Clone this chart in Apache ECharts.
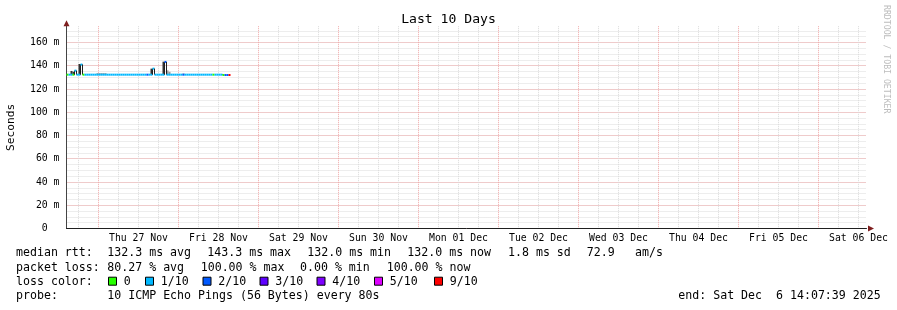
<!DOCTYPE html>
<html><head><meta charset="utf-8">
<script src="https://cdn.jsdelivr.net/npm/echarts@6/dist/echarts.min.js"></script>
<style>html,body{margin:0;padding:0;background:#fff}#c{width:897px;height:310px}</style>
</head><body><div id="c"></div>
<script>
// ---- time axis: hours relative to Thu 27 Nov 00:00 ----
const axisStartHour = -9.6;
const axisEndHour = 230.4;
const cellHours = 0.6;
const dayLines = [0, 24, 48, 72, 96, 120, 144, 168, 192, 216];
const sixHourLines = [-6, 6, 12, 18, 30, 36, 42, 54, 60, 66, 78, 84, 90, 102, 108, 114, 126, 132, 138,
  150, 156, 162, 174, 180, 186, 198, 204, 210, 222, 228];
const dayLabelHours = [12, 36, 60, 84, 108, 132, 156, 180, 204, 228];
const dayLabels = ['Thu 27 Nov', 'Fri 28 Nov', 'Sat 29 Nov', 'Sun 30 Nov', 'Mon 01 Dec',
  'Tue 02 Dec', 'Wed 03 Dec', 'Thu 04 Dec', 'Fri 05 Dec', 'Sat 06 Dec'];
const yMax = 174;

// ---- median rtt (ms) per cell ----
const median = [
  132.3, 132.3, 132.3, 132.3, 135.8, 132.3, 132.3, 141.0, 132.3, 132.3,
  132.3, 132.3, 132.3, 132.3, 132.3, 132.3, 132.3, 132.3, 132.3, 132.3,
  132.3, 132.3, 132.3, 132.3, 132.3, 132.3, 132.3, 132.3, 132.3, 132.3,
  132.3, 132.3, 132.3, 132.3, 132.3, 132.3, 132.3, 132.3, 132.3, 132.3,
  132.3, 132.3, 132.3, 137.5, 132.3, 132.3, 132.3, 132.3, 132.3, 143.3,
  132.3, 132.3, 132.3, 132.3, 132.3, 132.3, 132.3, 132.3, 132.3, 132.3,
  132.3, 132.3, 132.3, 132.3, 132.3, 132.3, 132.3, 132.3, 132.3, 132.3,
  132.3, 132.3, 132.3, 132.3, 132.3, 132.3, 132.3, 132.3, 132.0, 132.0,
  132.0, 132.0
];
// ---- lost pings (of 10) per cell ----
const lossCount = [
  0, 1, 1, 0, 1, 1, 1, 1, 0, 1,
  1, 1, 1, 1, 1, 1, 1, 1, 1, 1,
  1, 1, 1, 1, 1, 1, 1, 1, 1, 1,
  1, 1, 1, 1, 1, 1, 1, 1, 1, 1,
  2, 1, 1, 1, 1, 1, 1, 1, 1, 2,
  1, 1, 1, 1, 1, 1, 1, 1, 2, 1,
  1, 1, 1, 1, 1, 1, 1, 1, 1, 1,
  1, 1, 1, 0, 1, 1, 1, 1, 0, 2,
  2, 9
];
// ---- smoke: [cell, highest ping ms] ----
const smokeDark = [[2, 135.5], [3, 134.8], [6, 141.5], [7, 141.5], [42, 137.5], [48, 143.5]];
const smokeLight = [[15, 133.6], [16, 133.6], [17, 133.6], [18, 133.6], [19, 133.6], [50, 136.0], [51, 134.8], [58, 133.3]];

// ---- legend ----
const lossLevels = [0, 1, 2, 3, 4, 5, 9];
const lossLabels = ['0', '1/10', '2/10', '3/10', '4/10', '5/10', '9/10'];
const rttStats = ['132.3 ms avg', '143.3 ms max', '132.0 ms min', '132.0 ms now', '1.8 ms sd', '72.9', 'am/s'];
const lossStats = ['80.27 % avg', '100.00 % max', '0.00 % min', '100.00 % now'];
const probeText = '10 ICMP Echo Pings (56 Bytes) every 80s';
const endText = 'end: Sat Dec  6 14:07:39 2025';

const lossColors = ['#26ff00', '#00b8ff', '#0059ff', '#5e00ff', '#7e00ff', '#dd00ff', '#ff0000'];
const MONO = '"DejaVu Sans Mono", monospace';
const minorGrid = '#dadada';
const majorGrid = '#f0a8a8';

const cells = median.map((m, k) => [axisStartHour + k * cellHours, axisStartHour + (k + 1) * cellHours,
  m, k > 0 ? median[k - 1] : m, lossLevels.indexOf(lossCount[k])]);
const smokeRows = list => list.map(([k, hi]) => [axisStartHour + k * cellHours, axisStartHour + (k + 1) * cellHours, median[k], hi]);

function smokeRender(color) {
  return function (params, api) {
    const a = api.coord([api.value(0), api.value(3)]);
    const b = api.coord([api.value(1), api.value(2)]);
    return { type: 'rect', shape: { x: a[0], y: a[1], width: b[0] - a[0], height: b[1] - a[1] }, style: { fill: color } };
  };
}
function medianRender(params, api) {
  const t0 = api.value(0), t1 = api.value(1), med = api.value(2), prev = api.value(3), ci = api.value(4);
  const p0 = api.coord([t0, med]), p1 = api.coord([t1, med]);
  const children = [];
  if (prev !== med) {
    const q = api.coord([t0, prev]);
    children.push({ type: 'line', shape: { x1: p0[0], y1: q[1], x2: p0[0], y2: p0[1] }, style: { stroke: '#202020', lineWidth: 1 } });
  }
  children.push({ type: 'rect', shape: { x: p0[0], y: p0[1] - 1, width: p1[0] - p0[0], height: 2 }, style: { fill: lossColors[ci] } });
  return { type: 'group', children };
}

const gridBox = { left: 66.5, right: 30.5, top: 26.2, bottom: 81.5, containLabel: false, outerBoundsMode: 'none' };

// legend graphics
const graphics = [];
function txt(x, y, s, size) {
  graphics.push({ type: 'text', x, y, silent: true,
    style: { text: s, font: size + 'px ' + MONO, fill: '#000', align: 'left', verticalAlign: 'middle' } });
}
const rowY = [253.3, 267.5, 281.7, 295.9];
txt(16, rowY[0], 'median rtt:', 11.6);
[107.3, 207.3, 307.3, 407.3, 508, 586.7, 635].forEach((x, i) => txt(x, rowY[0], rttStats[i], 11.6));
txt(16, rowY[1], 'packet loss:', 11.6);
[107.3, 200.7, 300, 386.7].forEach((x, i) => txt(x, rowY[1], lossStats[i], 11.6));
txt(16, rowY[2], 'loss color:', 11.6);
const boxX = [108.5, 145.5, 203, 260, 317, 374.5, 434.5];
boxX.forEach((x, i) => {
  graphics.push({ type: 'rect', silent: true, shape: { x: x, y: rowY[2] - 4.5, width: 8, height: 8 },
    style: { fill: lossColors[i], stroke: '#000', lineWidth: 1 } });
  txt(x + 15.3, rowY[2], lossLabels[i], 11.6);
});
txt(16, rowY[3], 'probe:', 11.6);
txt(107.3, rowY[3], probeText, 11.6);
graphics.push({ type: 'text', x: 880.7, y: rowY[3], silent: true,
  style: { text: endText, font: '11.6px ' + MONO, fill: '#000', align: 'right', verticalAlign: 'middle' } });
graphics.push({ type: 'text', x: 886.5, y: 5, rotation: -Math.PI / 2, silent: true,
  style: { text: 'RRDTOOL / TOBI OETIKER', font: '8.2px ' + MONO, fill: '#bdbdbd', align: 'left', verticalAlign: 'middle' } });

const chart = echarts.init(document.getElementById('c'));
chart.setOption({
  animation: false,
  backgroundColor: '#fff',
  title: { text: 'Last 10 Days', left: 'center', top: 13.5, padding: 0,
    textStyle: { fontFamily: MONO, fontSize: 13.1, fontWeight: 'normal', color: '#000' } },
  grid: [Object.assign({}, gridBox), Object.assign({}, gridBox)],
  xAxis: [
    { // minor grid + arrow
      type: 'value', gridIndex: 0, min: axisStartHour, max: axisEndHour,
      axisLine: { show: true, onZero: false, symbol: ['none', 'triangle'], symbolSize: [6, 6], symbolOffset: [0, 4.5],
        lineStyle: { color: '#7f1f1f', width: 0 } },
      axisTick: { show: false, customValues: sixHourLines },
      axisLabel: { show: false },
      splitLine: { show: true, lineStyle: { color: minorGrid, width: 1, type: [1, 1] } }
    },
    { // major grid + labels
      type: 'value', gridIndex: 1, min: axisStartHour, max: axisEndHour,
      axisLine: { show: true, onZero: false, lineStyle: { color: '#1f1f1f', width: 1 } },
      axisTick: { show: false, customValues: dayLines },
      axisLabel: { show: true, customValues: dayLabelHours, margin: 4.5, color: '#000',
        fontFamily: MONO, fontSize: 9.8,
        formatter: v => dayLabels[dayLabelHours.indexOf(v)] },
      splitLine: { show: true, lineStyle: { color: majorGrid, width: 1, type: [1, 1] } }
    }
  ],
  yAxis: [
    { // minor grid + arrow
      type: 'value', gridIndex: 0, min: 0, max: yMax, interval: 5,
      axisLine: { show: true, onZero: false, symbol: ['none', 'triangle'], symbolSize: [6, 6], symbolOffset: [0, 3],
        lineStyle: { color: '#7f1f1f', width: 0 } },
      axisTick: { show: false }, axisLabel: { show: false },
      splitLine: { show: true, showMaxLine: false, lineStyle: { color: minorGrid, width: 1, type: [1, 1] } }
    },
    { // major grid + labels
      type: 'value', gridIndex: 1, min: 0, max: yMax, interval: 20,
      name: 'Seconds', nameLocation: 'middle', nameRotate: 90, nameGap: 50,
      nameTextStyle: { fontFamily: MONO, fontSize: 11.2, color: '#000' },
      axisLine: { show: true, onZero: false, lineStyle: { color: '#444', width: 1 } },
      axisTick: { show: false },
      axisLabel: { show: true, showMaxLabel: false, margin: 7, color: '#000', fontFamily: MONO, fontSize: 9.8,
        formatter: v => v === 0 ? '0  ' : v + ' m' },
      splitLine: { show: true, showMaxLine: false, lineStyle: { color: majorGrid, width: 1, type: [1, 1] } }
    }
  ],
  series: [
    { type: 'custom', name: 'smoke light', xAxisIndex: 0, yAxisIndex: 0, renderItem: smokeRender('#9c9c9c'),
      encode: { x: [0, 1], y: [2, 3] }, data: smokeRows(smokeLight), silent: true, z: 2 },
    { type: 'custom', name: 'smoke dark', xAxisIndex: 0, yAxisIndex: 0, renderItem: smokeRender('#333333'),
      encode: { x: [0, 1], y: [2, 3] }, data: smokeRows(smokeDark), silent: true, z: 3 },
    { type: 'custom', name: 'median rtt', xAxisIndex: 0, yAxisIndex: 0, renderItem: medianRender,
      encode: { x: [0, 1], y: 2 }, data: cells, silent: true, z: 4 }
  ],
  graphic: graphics
});
</script></body></html>
